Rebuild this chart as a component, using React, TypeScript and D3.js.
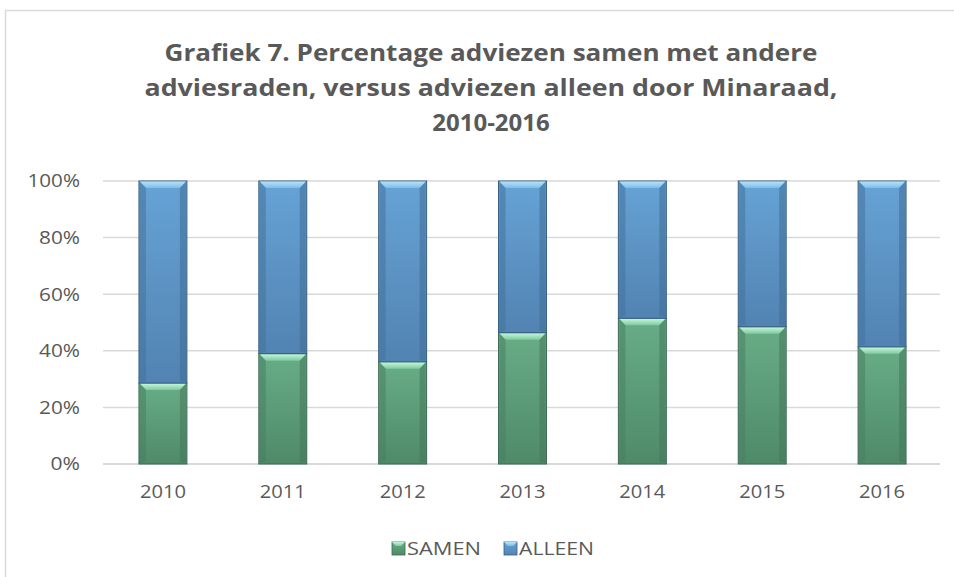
import React from "react";
import * as d3 from "d3";

const years = ["2010", "2011", "2012", "2013", "2014", "2015", "2016"];
const samen = [28.6, 39.0, 36.1, 46.4, 51.5, 48.5, 41.4];
const alleen = [71.4, 61.0, 63.9, 53.6, 48.5, 51.5, 58.6];
const yTicks = [0, 20, 40, 60, 80, 100];
const titleLines = [
  "Grafiek 7. Percentage adviezen samen met andere",
  "adviesraden, versus adviezen alleen door Minaraad,",
  "2010-2016",
];
const seriesNames = ["SAMEN", "ALLEEN"];

const W = 954;
const H = 577;
const textColor = "#595959";
const font = "'Open Sans', 'Noto Sans', sans-serif";

export default function App() {
  const x = d3.scaleBand<string>().domain(years).range([103, 942]).paddingInner(0.6).paddingOuter(0.3);
  const y = d3.scaleLinear().domain([0, 100]).range([464, 181]);
  const bw = x.bandwidth();
  const bev = 7;

  const seg = (x0: number, yTop: number, yBot: number, kind: "g" | "b", key: string) => {
    const h = yBot - yTop;
    return (
      <g key={key}>
        <rect x={x0} y={yTop} width={bw} height={h} fill={`url(#grad-${kind})`} stroke={kind === "g" ? "#3c6a52" : "#365f84"} strokeWidth={1} />
        <polygon
          points={`${x0 + 1},${yTop + 0.5} ${x0 + bw - 1},${yTop + 0.5} ${x0 + bw - bev},${yTop + bev} ${x0 + bev},${yTop + bev}`}
          fill={`url(#top-${kind})`}
        />
        <polygon
          points={`${x0 + 1},${yTop + 1} ${x0 + bev},${yTop + bev} ${x0 + bev},${yBot - 2} ${x0 + 1},${yBot - 1}`}
          fill={kind === "g" ? "#497f62" : "#44739c"}
          opacity={0.55}
        />
        <polygon
          points={`${x0 + bw - 1},${yTop + 1} ${x0 + bw - bev},${yTop + bev} ${x0 + bw - bev},${yBot - 2} ${x0 + bw - 1},${yBot - 1}`}
          fill={kind === "g" ? "#44785b" : "#406d96"}
          opacity={0.55}
        />
      </g>
    );
  };

  const numLen = (s: string) => s.replace("%", "").length * 11.5 + (s.includes("%") ? 18 : 0);

  return (
    <svg width={W} height={H} style={{ position: "absolute", left: 0, top: 0, background: "#fff" }} fontFamily={font}>
      <defs>
        <linearGradient id="grad-g" x1="0" y1="0" x2="0" y2="1">
          <stop offset="0" stopColor="#68ad87" />
          <stop offset="1" stopColor="#4f8a68" />
        </linearGradient>
        <linearGradient id="grad-b" x1="0" y1="0" x2="0" y2="1">
          <stop offset="0" stopColor="#66a3d6" />
          <stop offset="1" stopColor="#5283b2" />
        </linearGradient>
        <linearGradient id="top-g" x1="0" y1="0" x2="0" y2="1">
          <stop offset="0" stopColor="#c4f7da" />
          <stop offset="1" stopColor="#80c9a0" />
        </linearGradient>
        <linearGradient id="top-b" x1="0" y1="0" x2="0" y2="1">
          <stop offset="0" stopColor="#b6e3fb" />
          <stop offset="1" stopColor="#80bce6" />
        </linearGradient>
      </defs>
      <rect x={5.5} y={10.5} width={1000} height={700} fill="#fff" stroke="#d9d9d9" strokeWidth={1.5} />

      {titleLines.map((t, i) => (
        <text
          key={t}
          x={491}
          y={61 + i * 35}
          textAnchor="middle"
          fontSize={24}
          fontWeight="bold"
          fill={textColor}
          textLength={i === 0 ? 653 : i === 1 ? 693 : undefined}
          lengthAdjust="spacingAndGlyphs"
        >
          {t}
        </text>
      ))}

      {yTicks.map((t) => (
        <g key={t}>
          <line x1={103} x2={940} y1={y(t)} y2={y(t)} stroke="#d9d9d9" strokeWidth={t === 0 ? 2 : 1.5} />
          <text
            x={80}
            y={y(t)}
            dy="0.36em"
            textAnchor="end"
            fontSize={18}
            fill={textColor}
            textLength={numLen(`${t}%`)}
            lengthAdjust="spacingAndGlyphs"
          >
            {t}%
          </text>
        </g>
      ))}

      {years.map((yr, i) => {
        const x0 = x(yr) as number;
        const ySplit = y(samen[i]);
        const yTop = y(samen[i] + alleen[i]);
        return (
          <g key={yr}>
            {seg(x0, ySplit, y(0), "g", "g" + yr)}
            {seg(x0, yTop, ySplit, "b", "b" + yr)}
            <text
              x={x0 + bw / 2}
              y={498}
              textAnchor="middle"
              fontSize={18}
              fill={textColor}
              textLength={numLen(yr)}
              lengthAdjust="spacingAndGlyphs"
            >
              {yr}
            </text>
          </g>
        );
      })}

      {seriesNames.map((n, i) => {
        const lx = i === 0 ? 392 : 504;
        const kind = i === 0 ? "g" : "b";
        return (
          <g key={n}>
            <rect x={lx} y={542} width={13} height={13} fill={`url(#grad-${kind})`} stroke={kind === "g" ? "#3c6a52" : "#365f84"} strokeWidth={0.8} />
            <polygon points={`${lx},${542} ${lx + 13},${542} ${lx + 9},${546} ${lx + 4},${546}`} fill={`url(#top-${kind})`} />
            <text
              x={lx + 15}
              y={555}
              fontSize={18}
              fill={textColor}
              textLength={i === 0 ? 74 : 75}
              lengthAdjust="spacingAndGlyphs"
            >
              {n}
            </text>
          </g>
        );
      })}
    </svg>
  );
}
